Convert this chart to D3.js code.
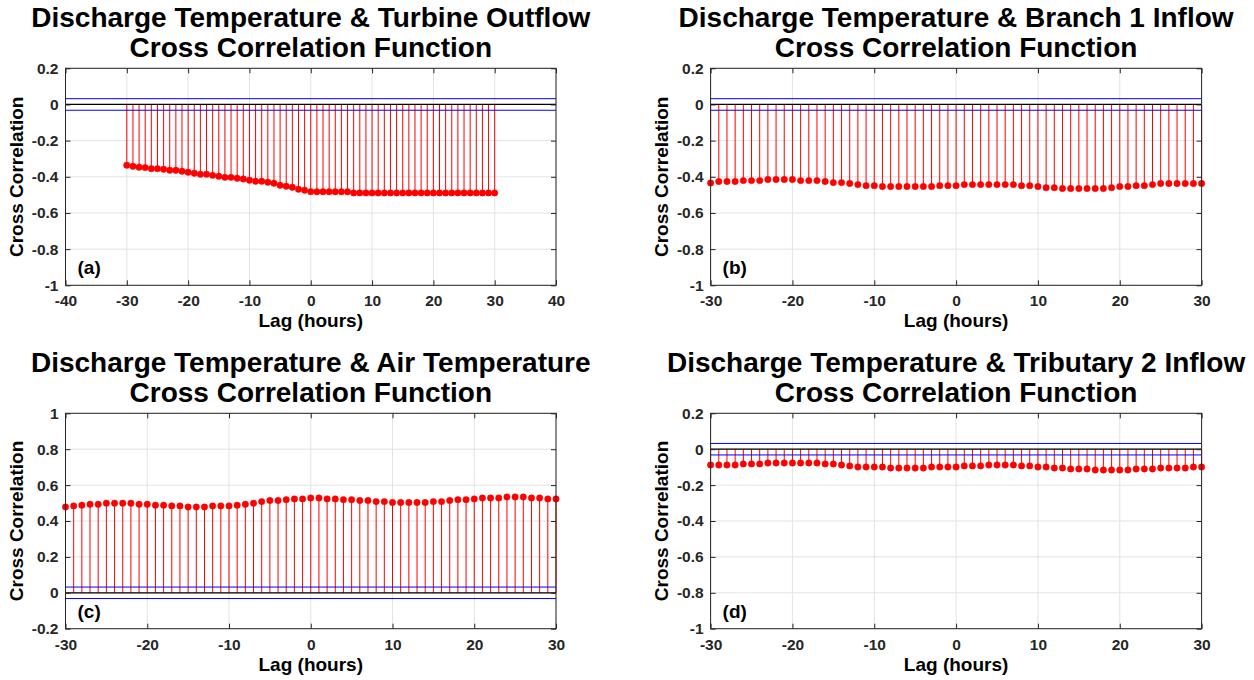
<!DOCTYPE html>
<html>
<head>
<meta charset="utf-8">
<script src="https://cdn.jsdelivr.net/npm/d3@7"></script>
<style>
  body { margin: 0; background: #fff; }
  text { font-family: "Liberation Sans", Arial, sans-serif; font-weight: bold; }
  .tick text { fill: #262626; font-size: 15.5px; }
  .grid line { stroke: #e3e3e3; stroke-width: 1; }
  .ticks line { stroke: #262626; stroke-width: 1; }
</style>
</head>
<body>
<script>
// cross correlation stem plots, 2x2 panels
window.onload = function(){

    var w = 1254, h = 680;

    // lag axis (hours), one value per hour
    var lags = d3.range(-30, 31);

    // (a) turbine outflow, lag -30 .. 30
    var turbineVals = [
        -0.336, -0.342, -0.347, -0.349, -0.355, -0.355, -0.358, -0.364, -0.364, -0.369,
        -0.375, -0.380, -0.386, -0.386, -0.392, -0.397, -0.403, -0.403, -0.408, -0.412,
        -0.419, -0.425, -0.425, -0.430, -0.436, -0.447, -0.452, -0.458, -0.469, -0.474,
        -0.482,
        -0.483, -0.483, -0.483, -0.483, -0.483, -0.483, -0.489, -0.489, -0.489, -0.489,
        -0.489, -0.489, -0.489, -0.489, -0.489, -0.489, -0.489, -0.489, -0.489, -0.489,
        -0.489, -0.489, -0.489, -0.489, -0.489, -0.489, -0.489, -0.489, -0.489, -0.489
    ];

    // (b) branch 1 inflow
    var branchVals = [
        -0.434, -0.426, -0.426, -0.426, -0.421, -0.421, -0.421, -0.415, -0.415, -0.415,
        -0.415, -0.421, -0.421, -0.421, -0.426, -0.432, -0.432, -0.437, -0.443, -0.449,
        -0.449, -0.454, -0.454, -0.454, -0.454, -0.454, -0.454, -0.454, -0.449, -0.449,
        -0.449,
        -0.443, -0.443, -0.443, -0.443, -0.443, -0.443, -0.443, -0.449, -0.449, -0.454,
        -0.460, -0.460, -0.465, -0.465, -0.465, -0.465, -0.465, -0.465, -0.460, -0.454,
        -0.454, -0.449, -0.449, -0.443, -0.437, -0.437, -0.437, -0.437, -0.437, -0.437
    ];

    // (c) air temperature
    var airVals = [
        0.478, 0.484, 0.488, 0.493, 0.493, 0.499, 0.499, 0.499, 0.499, 0.493,
        0.493, 0.488, 0.488, 0.484, 0.484, 0.478, 0.478, 0.478, 0.484, 0.484,
        0.484, 0.488, 0.493, 0.499, 0.508, 0.514, 0.514, 0.519, 0.523, 0.523,
        0.528,
        0.528, 0.523, 0.523, 0.519, 0.519, 0.514, 0.514, 0.508, 0.508, 0.503,
        0.503, 0.503, 0.503, 0.503, 0.508, 0.508, 0.514, 0.519, 0.519, 0.523,
        0.528, 0.528, 0.528, 0.534, 0.534, 0.534, 0.528, 0.528, 0.523, 0.523
    ];

    // (d) tributary 2 inflow
    var tributaryVals = [
        -0.088, -0.088, -0.088, -0.088, -0.082, -0.082, -0.082, -0.077, -0.077, -0.077,
        -0.077, -0.077, -0.077, -0.077, -0.082, -0.082, -0.088, -0.093, -0.099, -0.099,
        -0.099, -0.099, -0.105, -0.105, -0.105, -0.105, -0.105, -0.099, -0.099, -0.099,
        -0.099,
        -0.093, -0.093, -0.093, -0.088, -0.088, -0.088, -0.088, -0.093, -0.093, -0.099,
        -0.099, -0.105, -0.105, -0.110, -0.110, -0.110, -0.116, -0.116, -0.116, -0.116,
        -0.116, -0.110, -0.110, -0.110, -0.105, -0.105, -0.105, -0.105, -0.099, -0.099
    ];

    // confidence bound (blue lines)
    var bound = 0.032;

    var titles = [
        ["Discharge Temperature & Turbine Outflow", "Cross Correlation Function"],
        ["Discharge Temperature & Branch 1 Inflow", "Cross Correlation Function"],
        ["Discharge Temperature & Air Temperature", "Cross Correlation Function"],
        ["Discharge Temperature & Tributary 2 Inflow", "Cross Correlation Function"]
    ];
    var panelLabels = ["(a)", "(b)", "(c)", "(d)"];
    var seriesList = [turbineVals, branchVals, airVals, tributaryVals];
    var xDomains = [[-40, 40], [-30, 30], [-30, 30], [-30, 30]];
    var yDomains = [[-1, 0.2], [-1, 0.2], [-0.2, 1], [-1, 0.2]];

    // layout of the four axes boxes
    var boxes = [
        {left: 65.5, top: 68.3, width: 490.5, height: 217},
        {left: 710.6, top: 68.3, width: 491, height: 217},
        {left: 65.5, top: 413.3, width: 490.5, height: 215.4},
        {left: 710.6, top: 413.3, width: 491, height: 215.4}
    ];

    var svg = d3.select("body")
        .append("svg")
        .attr("width", w)
        .attr("height", h);

    boxes.forEach(function(b, i){
        var vals = seriesList[i];

        var x = d3.scaleLinear().domain(xDomains[i]).range([0, b.width]);
        var y = d3.scaleLinear().domain(yDomains[i]).range([b.height, 0]);

        var xTicks = d3.range(xDomains[i][0], xDomains[i][1] + 0.001, 10);
        var yTicks = d3.range(0, 7).map(function(k){ return +(yDomains[i][0] + k * 0.2).toFixed(1); });

        var g = svg.append("g")
            .attr("transform", "translate(" + b.left + "," + b.top + ")");

        // grid lines
        g.append("g").attr("class", "grid")
            .selectAll("line").data(xTicks).enter().append("line")
            .attr("x1", function(d){ return x(d); })
            .attr("x2", function(d){ return x(d); })
            .attr("y1", 0).attr("y2", b.height);
        g.append("g").attr("class", "grid")
            .selectAll("line").data(yTicks).enter().append("line")
            .attr("y1", function(d){ return y(d); })
            .attr("y2", function(d){ return y(d); })
            .attr("x1", 0).attr("x2", b.width);

        var pts = lags.map(function(l, k){ return {lag: l, v: vals[k]}; });

        // stems
        g.selectAll(".stem").data(pts).enter().append("line")
            .attr("class", "stem")
            .attr("x1", function(d){ return x(d.lag); })
            .attr("x2", function(d){ return x(d.lag); })
            .attr("y1", y(0))
            .attr("y2", function(d){ return y(d.v); })
            .style("stroke", "#ff0000")
            .style("stroke-width", 1);

        // zero line and bounds
        g.append("line")
            .attr("x1", 0).attr("x2", b.width)
            .attr("y1", y(0)).attr("y2", y(0))
            .style("stroke", "#000").style("stroke-width", 1.2);
        g.selectAll(".bound").data([bound, -bound]).enter().append("line")
            .attr("class", "bound")
            .attr("x1", 0).attr("x2", b.width)
            .attr("y1", function(d){ return y(d); })
            .attr("y2", function(d){ return y(d); })
            .style("stroke", "#0000ff").style("stroke-width", 1);

        // markers
        g.selectAll(".dot").data(pts).enter().append("circle")
            .attr("class", "dot")
            .attr("cx", function(d){ return x(d.lag); })
            .attr("cy", function(d){ return y(d.v); })
            .attr("r", 3.2)
            .style("fill", "#ff0000")
            .style("stroke", "#ff0000")
            .style("stroke-width", 0.5);

        // axes, ticks pointing inward
        var fmt = function(d){ return d3.format("")(d).replace("\u2212", "-"); };
        g.append("g").attr("class", "ticks")
            .attr("transform", "translate(0," + b.height + ")")
            .call(d3.axisBottom(x).tickValues(xTicks).tickSize(-5).tickPadding(10).tickFormat(fmt));
        g.append("g").attr("class", "ticks")
            .call(d3.axisLeft(y).tickValues(yTicks).tickSize(-5).tickPadding(7).tickFormat(fmt));
        g.append("g").attr("class", "ticks")
            .call(d3.axisTop(x).tickValues(xTicks).tickSize(-5).tickFormat(""));
        g.append("g").attr("class", "ticks")
            .attr("transform", "translate(" + b.width + ",0)")
            .call(d3.axisRight(y).tickValues(yTicks).tickSize(-5).tickFormat(""));
        g.selectAll(".domain").remove();

        // box
        g.append("rect")
            .attr("width", b.width).attr("height", b.height)
            .style("fill", "none").style("stroke", "#262626").style("stroke-width", 1);

        // axis labels
        g.append("text")
            .attr("x", b.width / 2).attr("y", b.height + 42)
            .attr("text-anchor", "middle")
            .style("font-size", "19px")
            .text("Lag (hours)");
        g.append("text")
            .attr("transform", "translate(-43," + (b.height / 2) + ") rotate(-90)")
            .attr("text-anchor", "middle")
            .style("font-size", "19px")
            .text("Cross Correlation");

        // panel letter
        g.append("text")
            .attr("x", 12).attr("y", b.height - 11)
            .style("font-size", "19px")
            .text(panelLabels[i]);

        // two line title
        var title = g.append("text")
            .attr("text-anchor", "middle")
            .style("font-size", "28px");
        title.append("tspan").attr("x", b.width / 2).attr("y", -41).text(titles[i][0]);
        title.append("tspan").attr("x", b.width / 2).attr("y", -11).text(titles[i][1]);
    });
};
</script>
</body>
</html>
